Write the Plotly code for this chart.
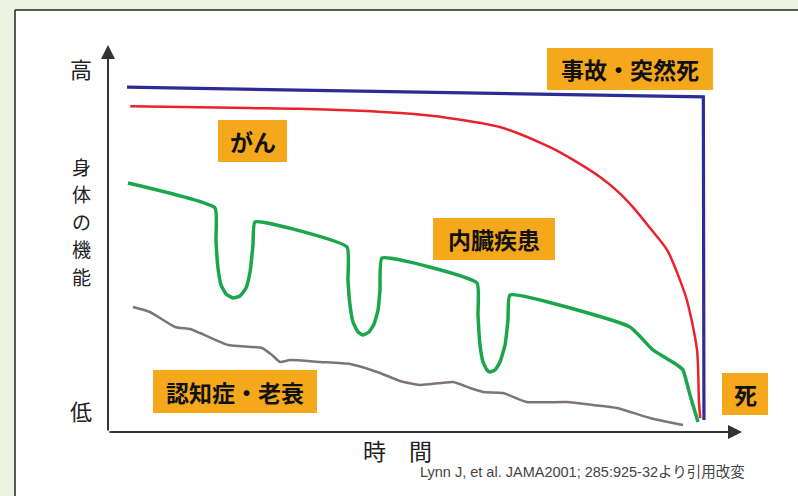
import plotly.graph_objects as go

# ---- data (time units 0..100, function units 0..100) ----
blue_x = [3.0, 93.9, 94.0]
blue_y = [89.1, 86.6, 3.1]

red_x = [3.5, 22.4, 30.3, 46.1, 53.9, 61.8, 69.7, 73.7, 77.6, 80.3, 82.8, 85.5, 88.2, 89.9, 91.3, 92.9, 93.2, 93.4]
red_y = [84.2, 83.7, 83.5, 82.4, 81.1, 78.8, 73.6, 70.0, 65.9, 62.3, 58.1, 52.7, 47.0, 40.6, 34.1, 21.2, 8.3, 3.6]

green_x = [3.15, 16.88, 17.03, 17.35, 17.82, 18.61, 19.72, 20.82, 21.77, 22.40, 22.87, 23.19,
           37.70, 37.85, 38.17, 38.64, 39.43, 40.22, 41.17, 41.96, 42.59, 42.90, 43.22,
           58.20, 58.36, 58.68, 59.15, 59.78, 60.25, 61.04, 61.83, 62.62, 63.09, 63.41,
           82.33, 85.96, 89.75, 90.69, 91.80, 93.06]
green_y = [64.34, 57.88, 49.61, 42.38, 37.98, 35.66, 34.63, 35.14, 37.21, 41.34, 48.32, 54.26,
           47.80, 39.28, 32.82, 28.42, 25.84, 25.06, 25.84, 27.91, 31.52, 36.69, 44.96,
           38.50, 30.23, 22.48, 18.09, 16.02, 15.50, 16.02, 18.09, 22.48, 28.94, 35.40,
           27.13, 21.19, 17.31, 16.02, 9.56, 2.58]

gray_x = [3.94, 6.62, 10.57, 12.93, 14.51, 18.93, 24.29, 25.87, 27.13, 28.71, 33.44, 38.17, 42.90,
          46.06, 49.21, 54.42, 57.10, 59.15, 62.30, 66.09, 72.40, 76.50, 80.28, 85.49, 90.69]
gray_y = [32.30, 31.01, 27.13, 26.61, 25.58, 22.48, 21.71, 19.90, 18.09, 18.60, 18.09, 17.57, 15.25,
          13.18, 12.14, 12.92, 11.37, 10.34, 10.08, 7.75, 7.75, 6.98, 6.20, 3.62, 1.81]

labels = ["事故・突然死", "がん", "内臓疾患", "認知症・老衰", "死"]
y_high, y_low, y_title = "高", "低", "身体の機能"
x_title = "時　間"
citation = "Lynn J, et al. JAMA2001; 285:925-32より引用改変"

# ---- layout helpers ----
W, H = 798, 496
X0, X1 = 108, 742   # pixel of time 0 and 100
Y0, Y1 = 432, 45    # pixel of function 0 and 100
sx = (X1 - X0) / 100
sy = (Y0 - Y1) / 100

def px(p):
    return p / W

def py(p):
    return 1 - p / H

FONT = "Noto Sans CJK JP, Noto Sans, sans-serif"
ORANGE = "#f6a81c"

fig = go.Figure()
fig.add_trace(go.Scatter(x=gray_x, y=gray_y, mode="lines",
                         line=dict(color="#7d7575", width=2.5, shape="spline", smoothing=0.5),
                         hoverinfo="skip"))
fig.add_trace(go.Scatter(x=green_x, y=green_y, mode="lines",
                         line=dict(color="#1ba64c", width=3.5, shape="spline", smoothing=0.4),
                         hoverinfo="skip"))
fig.add_trace(go.Scatter(x=red_x, y=red_y, mode="lines",
                         line=dict(color="#e8232b", width=2.5, shape="spline", smoothing=0.8),
                         hoverinfo="skip"))
fig.add_trace(go.Scatter(x=blue_x, y=blue_y, mode="lines",
                         line=dict(color="#2e2b95", width=3.2), hoverinfo="skip"))

shapes = []
# page background strips and frame
shapes.append(dict(type="rect", xref="paper", yref="paper", x0=0, x1=1, y0=py(10), y1=1,
                   fillcolor="#edf2e3", line_width=0, layer="below"))
shapes.append(dict(type="rect", xref="paper", yref="paper", x0=0, x1=px(15), y0=0, y1=1,
                   fillcolor="#edf2e3", line_width=0, layer="below"))
shapes.append(dict(type="line", xref="paper", yref="paper", x0=px(15), x1=1, y0=py(10), y1=py(10),
                   line=dict(color="#222222", width=1.5)))
shapes.append(dict(type="line", xref="paper", yref="paper", x0=px(15), x1=px(15), y0=py(10), y1=0,
                   line=dict(color="#222222", width=1.5)))

boxes = [(547, 713, 48, 90), (218, 287, 120, 162), (433, 555, 218, 260),
         (153, 317, 370, 413), (722, 768, 373, 415)]
annotations = []
for lab, (bx0, bx1, by0, by1) in zip(labels, boxes):
    shapes.append(dict(type="rect", xref="paper", yref="paper",
                       x0=px(bx0), x1=px(bx1), y0=py(by1), y1=py(by0),
                       fillcolor=ORANGE, line_width=0, layer="below"))
    annotations.append(dict(xref="paper", yref="paper", x=px((bx0 + bx1) / 2), y=py((by0 + by1) / 2),
                            text="<b>" + lab + "</b>", showarrow=False,
                            font=dict(family=FONT, size=23, color="#111111"),
                            xanchor="center", yanchor="middle", borderpad=0))

# axes arrows
annotations.append(dict(x=0, y=100, ax=0, ay=0, xref="x", yref="y", axref="x", ayref="y",
                        showarrow=True, arrowhead=2, arrowsize=1.4, arrowwidth=2,
                        arrowcolor="#333333", text=""))
annotations.append(dict(x=100, y=0, ax=0, ay=0, xref="x", yref="y", axref="x", ayref="y",
                        showarrow=True, arrowhead=2, arrowsize=1.4, arrowwidth=2,
                        arrowcolor="#333333", text=""))

# axis labels
annotations.append(dict(xref="paper", yref="paper", x=px(81), y=py(68), text=y_high, showarrow=False,
                        xanchor="center", yanchor="middle",
                        font=dict(family=FONT, size=22, color="#222222")))
annotations.append(dict(xref="paper", yref="paper", x=px(81), y=py(410), text=y_low, showarrow=False,
                        xanchor="center", yanchor="middle",
                        font=dict(family=FONT, size=22, color="#222222")))
char_pos = [166, 193.5, 221, 248.5, 276]
for ch, cy in zip(y_title, char_pos):
    annotations.append(dict(xref="paper", yref="paper", x=px(81), y=py(cy), text=ch, showarrow=False,
                            font=dict(family=FONT, size=19, color="#222222"),
                            xanchor="center", yanchor="middle", borderpad=0))
annotations.append(dict(xref="paper", yref="paper", x=px(397), y=py(450), text=x_title, showarrow=False,
                        xanchor="center", yanchor="middle",
                        font=dict(family=FONT, size=23, color="#222222")))
annotations.append(dict(xref="paper", yref="paper", x=px(418), y=py(472), text=citation, showarrow=False,
                        xanchor="left", yanchor="middle",
                        font=dict(family="Liberation Sans, Noto Sans CJK JP", size=14.5, color="#444444")))

fig.update_layout(
    width=W, height=H,
    margin=dict(l=0, r=0, t=0, b=0),
    paper_bgcolor="white", plot_bgcolor="rgba(0,0,0,0)",
    showlegend=False,
    xaxis=dict(range=[(0 - X0) / sx, (W - X0) / sx], visible=False, fixedrange=True),
    yaxis=dict(range=[(Y0 - H) / sy, Y0 / sy], visible=False, fixedrange=True),
    shapes=shapes, annotations=annotations,
)

fig.write_html("out.html", config={"displayModeBar": False},
               post_script="document.body.style.margin='0';document.body.style.overflow='hidden';")
